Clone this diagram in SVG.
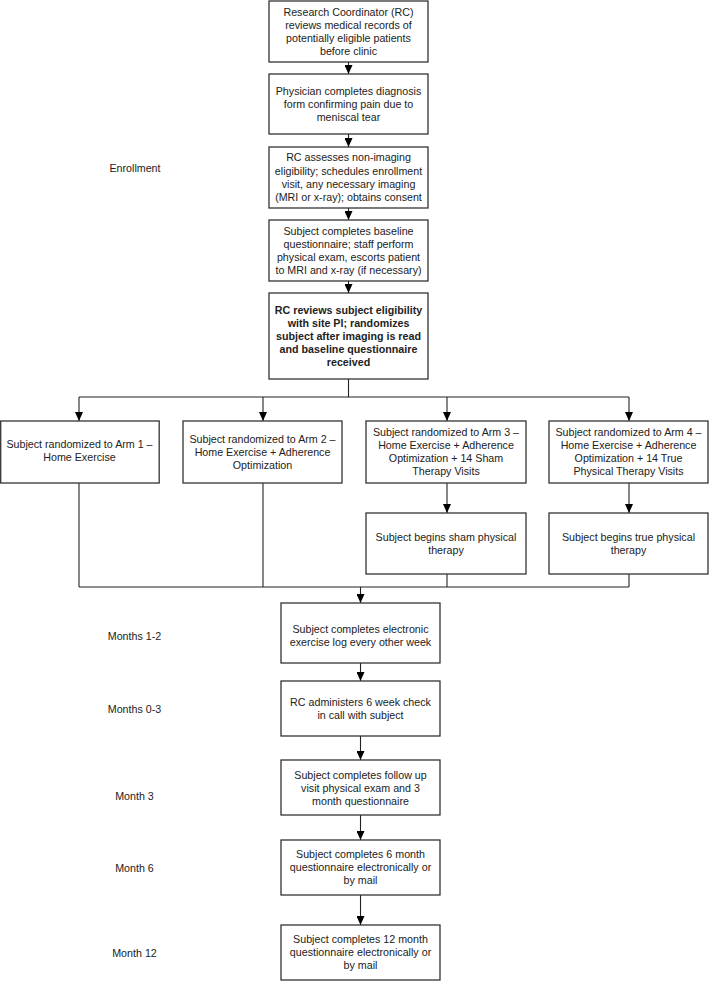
<svg xmlns="http://www.w3.org/2000/svg" width="709" height="981" viewBox="0 0 709 981">
<defs>
<marker id="ah" viewBox="0 0 9 8" refX="9" refY="4" markerWidth="9" markerHeight="8" markerUnits="userSpaceOnUse" orient="auto">
<path d="M0,0 L9,4 L0,8 Z" fill="#000"/>
</marker>
</defs>
<style>
.box{fill:#fff;stroke:#333;stroke-width:1.3}
.t{font-family:"Liberation Sans",Arial,sans-serif;font-size:10.7px;fill:#222;text-anchor:middle}
.b{font-weight:bold}
.lbl{font-family:"Liberation Sans",Arial,sans-serif;font-size:10.7px;fill:#222;text-anchor:middle}
.c{fill:none;stroke:#222;stroke-width:1.1}
</style>
<rect width="709" height="981" fill="#fff"/>
<g id="connectors">
<line class="c" x1="348.5" y1="62" x2="348.5" y2="74" marker-end="url(#ah)"/>
<line class="c" x1="348.5" y1="134" x2="348.5" y2="147" marker-end="url(#ah)"/>
<line class="c" x1="348.5" y1="208" x2="348.5" y2="220" marker-end="url(#ah)"/>
<line class="c" x1="348.5" y1="281" x2="348.5" y2="293" marker-end="url(#ah)"/>
<polyline class="c" points="348.5,379 348.5,397"/>
<line class="c" x1="79" y1="397" x2="629" y2="397"/>
<line class="c" x1="79" y1="397" x2="79" y2="421" marker-end="url(#ah)"/>
<line class="c" x1="263" y1="397" x2="263" y2="421" marker-end="url(#ah)"/>
<line class="c" x1="447" y1="397" x2="447" y2="421" marker-end="url(#ah)"/>
<line class="c" x1="629" y1="397" x2="629" y2="421" marker-end="url(#ah)"/>
<line class="c" x1="447" y1="483" x2="447" y2="513" marker-end="url(#ah)"/>
<line class="c" x1="629" y1="483" x2="629" y2="513" marker-end="url(#ah)"/>
<line class="c" x1="79" y1="483" x2="79" y2="587"/>
<line class="c" x1="263" y1="483" x2="263" y2="587"/>
<line class="c" x1="447" y1="574" x2="447" y2="587"/>
<line class="c" x1="629" y1="574" x2="629" y2="587"/>
<line class="c" x1="79" y1="587" x2="629" y2="587"/>
<line class="c" x1="360.5" y1="587" x2="360.5" y2="603" marker-end="url(#ah)"/>
<line class="c" x1="360.5" y1="663" x2="360.5" y2="681" marker-end="url(#ah)"/>
<line class="c" x1="360.5" y1="736" x2="360.5" y2="760" marker-end="url(#ah)"/>
<line class="c" x1="360.5" y1="815" x2="360.5" y2="840" marker-end="url(#ah)"/>
<line class="c" x1="360.5" y1="895" x2="360.5" y2="925" marker-end="url(#ah)"/>
</g>
<g id="n1"><rect class="box" x="269" y="1" width="159" height="61"/>
<text class="t"><tspan x="348.5" y="16">Research Coordinator (RC)</tspan><tspan x="348.5" y="29">reviews medical records of</tspan><tspan x="348.5" y="41.5">potentially eligible patients</tspan><tspan x="348.5" y="54.5">before clinic</tspan></text></g>
<g id="n2"><rect class="box" x="269" y="74" width="159" height="60"/>
<text class="t"><tspan x="348.5" y="94.5">Physician completes diagnosis</tspan><tspan x="348.5" y="107.5">form confirming pain due to</tspan><tspan x="348.5" y="120.5">meniscal tear</tspan></text></g>
<g id="n3"><rect class="box" x="269" y="147" width="159" height="61"/>
<text class="t"><tspan x="348.5" y="161">RC assesses non-imaging</tspan><tspan x="348.5" y="174.5">eligibility; schedules enrollment</tspan><tspan x="348.5" y="187.5">visit, any necessary imaging</tspan><tspan x="348.5" y="200.5">(MRI or x-ray); obtains consent</tspan></text></g>
<g id="n4"><rect class="box" x="269" y="220" width="159" height="61"/>
<text class="t"><tspan x="348.5" y="235">Subject completes baseline</tspan><tspan x="348.5" y="248">questionnaire; staff perform</tspan><tspan x="348.5" y="261">physical exam, escorts patient</tspan><tspan x="348.5" y="274">to MRI and x-ray (if necessary)</tspan></text></g>
<g id="n5"><rect class="box" x="269" y="293" width="159" height="86"/>
<text class="t b"><tspan x="348.5" y="313.5">RC reviews subject eligibility</tspan><tspan x="348.5" y="326.5">with site PI; randomizes</tspan><tspan x="348.5" y="339.5">subject after imaging is read</tspan><tspan x="348.5" y="352.5">and baseline questionnaire</tspan><tspan x="348.5" y="365.5">received</tspan></text></g>
<g id="arm1"><rect class="box" x="0.7" y="421" width="158.5" height="62"/>
<text class="t"><tspan x="79.5" y="447.5">Subject randomized to Arm 1 –</tspan><tspan x="79.5" y="461">Home Exercise</tspan></text></g>
<g id="arm2"><rect class="box" x="183" y="421" width="159" height="62"/>
<text class="t"><tspan x="262.5" y="442.5">Subject randomized to Arm 2 –</tspan><tspan x="262.5" y="455.5">Home Exercise + Adherence</tspan><tspan x="262.5" y="468.5">Optimization</tspan></text></g>
<g id="arm3"><rect class="box" x="366" y="421" width="160" height="62"/>
<text class="t"><tspan x="446" y="435.5">Subject randomized to Arm 3 –</tspan><tspan x="446" y="448.5">Home Exercise + Adherence</tspan><tspan x="446" y="461.5">Optimization + 14 Sham</tspan><tspan x="446" y="474.5">Therapy Visits</tspan></text></g>
<g id="arm4"><rect class="box" x="549" y="421" width="159" height="62"/>
<text class="t"><tspan x="628.5" y="435.5">Subject randomized to Arm 4 –</tspan><tspan x="628.5" y="448.5">Home Exercise + Adherence</tspan><tspan x="628.5" y="461.5">Optimization + 14 True</tspan><tspan x="628.5" y="474.5">Physical Therapy Visits</tspan></text></g>
<g id="sham"><rect class="box" x="366" y="513" width="160" height="61"/>
<text class="t"><tspan x="446" y="540.5">Subject begins sham physical</tspan><tspan x="446" y="553.5">therapy</tspan></text></g>
<g id="true"><rect class="box" x="549" y="513" width="159" height="61"/>
<text class="t"><tspan x="628.5" y="540.5">Subject begins true physical</tspan><tspan x="628.5" y="553.5">therapy</tspan></text></g>
<g id="b1"><rect class="box" x="281" y="603" width="159" height="60"/>
<text class="t"><tspan x="360.5" y="632.5">Subject completes electronic</tspan><tspan x="360.5" y="645.5">exercise log every other week</tspan></text></g>
<g id="b2"><rect class="box" x="281" y="681" width="159" height="55"/>
<text class="t"><tspan x="360.5" y="705.5">RC administers 6 week check</tspan><tspan x="360.5" y="718.5">in call with subject</tspan></text></g>
<g id="b3"><rect class="box" x="281" y="760" width="159" height="55"/>
<text class="t"><tspan x="360.5" y="778.5">Subject completes follow up</tspan><tspan x="360.5" y="791.5">visit physical exam and 3</tspan><tspan x="360.5" y="804.5">month questionnaire</tspan></text></g>
<g id="b4"><rect class="box" x="281" y="840" width="159" height="55"/>
<text class="t"><tspan x="360.5" y="857.5">Subject completes 6 month</tspan><tspan x="360.5" y="870.5">questionnaire electronically or</tspan><tspan x="360.5" y="883.5">by mail</tspan></text></g>
<g id="b5"><rect class="box" x="281" y="925" width="159" height="55"/>
<text class="t"><tspan x="360.5" y="942.5">Subject completes 12 month</tspan><tspan x="360.5" y="956">questionnaire electronically or</tspan><tspan x="360.5" y="969">by mail</tspan></text></g>
<g id="labels">
<text class="lbl" x="135" y="172">Enrollment</text>
<text class="lbl" x="134.5" y="639.5">Months 1-2</text>
<text class="lbl" x="134.5" y="712.5">Months 0-3</text>
<text class="lbl" x="134.5" y="799.5">Month 3</text>
<text class="lbl" x="134.5" y="871.5">Month 6</text>
<text class="lbl" x="134.5" y="956.5">Month 12</text>
</g>
</svg>
